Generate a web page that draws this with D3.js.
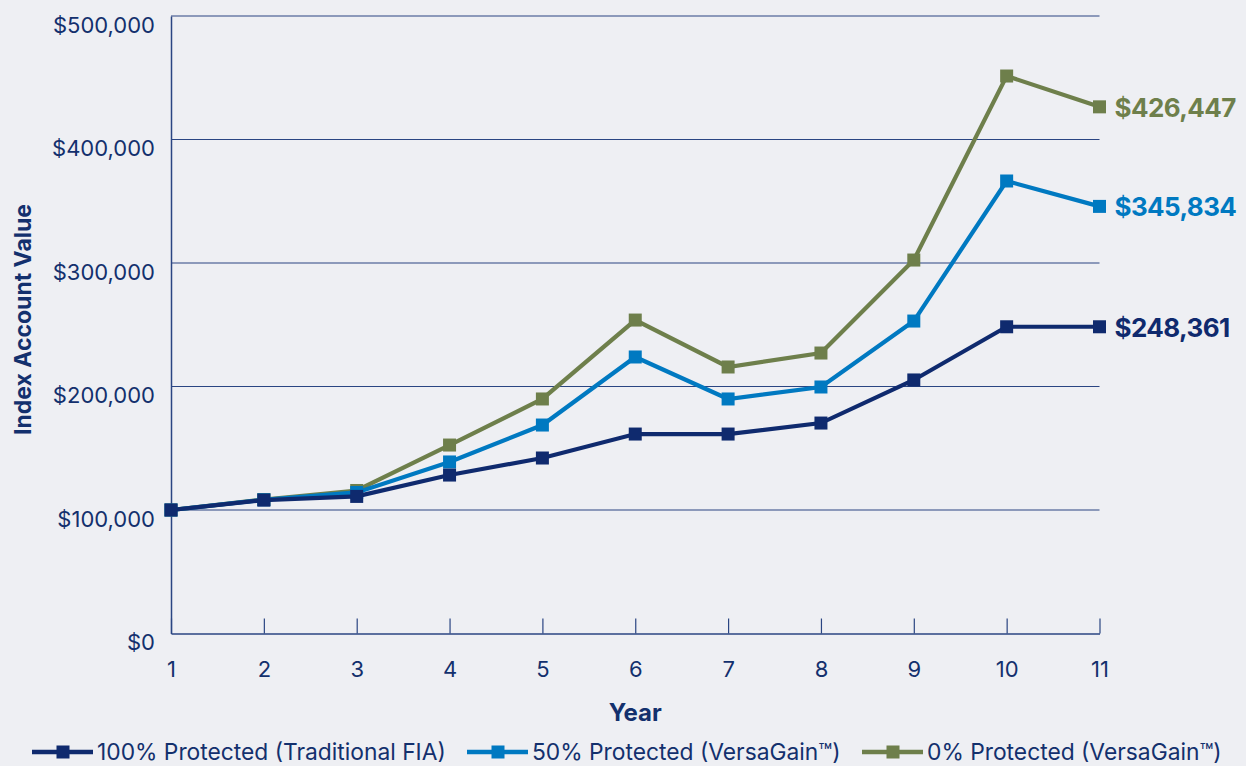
<!DOCTYPE html>
<html>
<head>
<meta charset="utf-8">
<script src="https://cdn.jsdelivr.net/npm/d3@7"></script>
<style>
  html, body { margin: 0; padding: 0; background: #eeeff3; }
  svg { display: block; }
  text { font-family: Inter, "Noto Sans", sans-serif; }
</style>
</head>
<body>
<svg id="chart" width="1246" height="766"></svg>
<script>
// Index account value by policy year, three protection levels
const years = [1, 2, 3, 4, 5, 6, 7, 8, 9, 10, 11];
const protected100 = [100000, 108000, 111000, 128300, 142100, 161500, 161500, 170400, 205300, 248361, 248361];
const protected50  = [100000, 108300, 114200, 138900, 168800, 223900, 189900, 199600, 253000, 366400, 345834];
const protected0   = [100000, 108500, 115800, 152600, 189900, 253800, 215800, 227100, 302400, 451400, 426447];
const yTicks = [0, 100000, 200000, 300000, 400000, 500000];
const seriesNames = ["100% Protected (Traditional FIA)", "50% Protected (VersaGain™)", "0% Protected (VersaGain™)"];
const seriesColors = ["#0f2a6e", "#0079c1", "#6e7f4b"];

const navy = "#13306d";
const axisColor = "#2a4582";
const svg = d3.select("#chart");

const x = d3.scaleLinear().domain([1, 11]).range([171, 1099.5]);
const y = d3.scaleLinear().domain([0, 500000]).range([633.5, 16]);
const fmt = v => "$" + d3.format(",")(v);

// gridlines
svg.append("g")
  .selectAll("line")
  .data(yTicks.filter(d => d > 0))
  .join("line")
  .attr("x1", x(1)).attr("x2", x(11))
  .attr("y1", d => y(d)).attr("y2", d => y(d))
  .attr("stroke", axisColor).attr("stroke-width", 1.2);

// y axis
const yAxis = svg.append("g")
  .attr("transform", `translate(${x(1)},0)`)
  .call(d3.axisLeft(y).tickValues(yTicks).tickFormat(fmt).tickSize(0).tickPadding(16));
yAxis.select(".domain").attr("stroke", axisColor).attr("stroke-width", 1.5);
yAxis.selectAll("text")
  .attr("fill", navy).attr("font-size", 22).attr("dy", "0.74em")
  .attr("font-family", "Inter, sans-serif");

// x axis with inward ticks
const xAxis = svg.append("g")
  .attr("transform", `translate(0,${y(0)})`)
  .call(d3.axisBottom(x).tickValues(years).tickFormat(d3.format("d")).tickSize(0).tickPadding(0));
xAxis.select(".domain").attr("stroke", axisColor).attr("stroke-width", 1.5);
xAxis.selectAll(".tick").append("line")
  .attr("y1", 0).attr("y2", -15)
  .attr("stroke", axisColor).attr("stroke-width", 1.2);
xAxis.selectAll("text")
  .attr("fill", navy).attr("font-size", 22)
  .attr("y", 43).attr("dy", 0)
  .attr("font-family", "Inter, sans-serif");

// axis titles
svg.append("text")
  .attr("x", x(6)).attr("y", 721)
  .attr("text-anchor", "middle")
  .attr("fill", navy).attr("font-size", 24).attr("font-weight", 700)
  .attr("font-family", "Roboto, sans-serif")
  .text("Year");
svg.append("text")
  .attr("transform", "translate(31,319.5) rotate(-90)")
  .attr("text-anchor", "middle")
  .attr("fill", navy).attr("font-size", 23).attr("font-weight", 700)
  .attr("font-family", "Roboto, sans-serif")
  .text("Index Account Value");

// series lines and square markers
const series = [protected100, protected50, protected0].map((vals, i) => ({
  name: seriesNames[i], color: seriesColors[i],
  points: vals.map((v, j) => ({ year: years[j], value: v }))
}));
const line = d3.line().x(d => x(d.year)).y(d => y(d.value));
const ms = 13;

series.slice().reverse().forEach(s => {
  const g = svg.append("g");
  g.append("path")
    .datum(s.points)
    .attr("d", line)
    .attr("fill", "none")
    .attr("stroke", s.color)
    .attr("stroke-width", 4.2)
    .attr("stroke-linejoin", "miter");
  g.selectAll("rect")
    .data(s.points)
    .join("rect")
    .attr("x", d => x(d.year) - ms / 2)
    .attr("y", d => y(d.value) - ms / 2)
    .attr("width", ms).attr("height", ms)
    .attr("fill", s.color);
  const last = s.points[s.points.length - 1];
  g.append("text")
    .attr("x", x(last.year) + 15)
    .attr("y", y(last.value))
    .attr("dy", "0.38em")
    .attr("fill", s.color)
    .attr("font-size", 26)
    .attr("font-weight", 700)
    .attr("letter-spacing", -0.6)
    .attr("font-family", "Roboto, sans-serif")
    .text(fmt(last.value));
});

// legend
const legendX = [32, 467, 862];
const legend = svg.append("g");
series.forEach((s, i) => {
  const g = legend.append("g").attr("transform", `translate(${legendX[i]},752)`);
  g.append("line").attr("x1", 0).attr("x2", 61).attr("y1", 0).attr("y2", 0)
    .attr("stroke", s.color).attr("stroke-width", 4.5);
  g.append("rect").attr("x", 31 - 6.5).attr("y", -6.5).attr("width", 13).attr("height", 13)
    .attr("fill", s.color);
  g.append("text").attr("x", 65).attr("y", 0).attr("dy", "0.35em")
    .attr("fill", navy).attr("font-size", 22.8)
    .text(s.name);
});
</script>
</body>
</html>
